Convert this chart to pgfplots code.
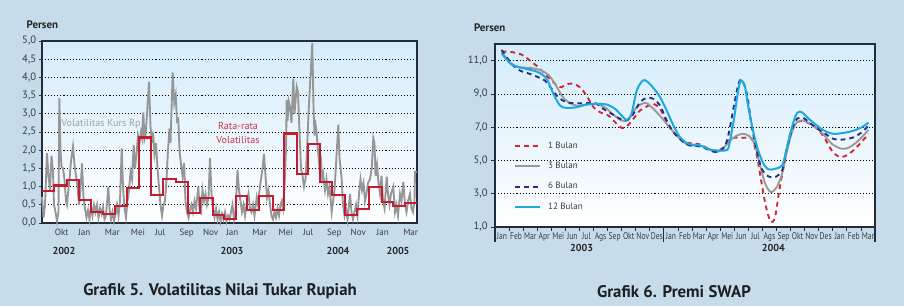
\documentclass[border=0pt]{standalone}
\usepackage{pgfplots}
\pgfplotsset{compat=1.18}
\usepackage{fontspec}
\setmainfont{PT Sans}
\newfontfamily\narrowfont[FakeStretch=0.78]{PT Sans}
\definecolor{bg}{RGB}{198,220,235}
\definecolor{plottop}{RGB}{212,236,250}
\definecolor{frame}{RGB}{35,45,58}
\definecolor{lbl}{RGB}{60,60,60}
\definecolor{volgray}{RGB}{150,150,150}
\definecolor{stepred}{RGB}{196,28,48}
\definecolor{txtred}{RGB}{200,50,75}
\definecolor{b1}{RGB}{214,36,46}
\definecolor{b3}{RGB}{153,153,153}
\definecolor{b6}{RGB}{40,44,130}
\definecolor{b12}{RGB}{28,168,224}
\newcommand\fTick{\fontsize{6.8}{7.5}\selectfont}
\newcommand\fTickR{\fontsize{7.3}{8}\selectfont}
\newcommand\fLeg{\fontsize{6.8}{7.5}\selectfont}
\newcommand\fY{\fontsize{8}{9}\selectfont}
\newcommand\fTxt{\fontsize{7.6}{10.5}\selectfont}
\newcommand\fBold{\bfseries\fontsize{7.6}{9}\selectfont}
\newcommand\fPers{\bfseries\fontsize{8.2}{9}\selectfont}
\newcommand\fTitle{\bfseries\fontsize{12.6}{14}\selectfont}
\begin{document}
\begin{tikzpicture}
\fill[bg] (0,0) rectangle (678pt,229.5pt);
% ---------------- Left chart ----------------
\begin{axis}[
  at={(31.5pt,62.25pt)}, anchor=south west,
  scale only axis, width=281.25pt, height=136.5pt,
  xmin=0, xmax=375, ymin=0, ymax=5,
  clip=false,
  axis background/.style={top color=plottop, bottom color=white},
  axis line style={draw=frame, line width=1pt},
  ytick={0,0.5,1,1.5,2,2.5,3,3.5,4,4.5,5},
  yticklabels={{0,0},{0,5},{1,0},{1,5},{2,0},{2,5},{3,0},{3,5},{4,0},{4,5},{5,0}},
  minor ytick={0,0.5,1,1.5,2,2.5,3,3.5,4,4.5,5},
  xtick={19.7,42.3,70.3,96,118.3,144.7,168.7,190.3,217.7,243.7,266.3,292.3,316.3,340.7,368.7},
  xticklabels={Okt,Jan,Mar,Mei,Jul,Sep,Nov,Jan,Mar,Mei,Jul,Sep,Nov,Jan,Mar},
  major tick length=0pt, minor tick length=2.4pt, tick align=outside,
  xtick pos=bottom, ytick pos=left,
  minor tick style={draw=lbl, line width=0.6pt},
  ymajorgrids,
  grid style={black, dash pattern=on 0.8pt off 1.5pt, line width=0.6pt},
  xticklabel style={font=\fTick, text=lbl, yshift=-1.2pt},
  yticklabel style={font=\fY, text=lbl, xshift=-0.8pt},
]
\addplot[volgray, line width=1.4pt] coordinates {
(0,0.72)(1.5,0.15)(3,0.5)(5,1.92)(6.5,1.3)(8,0.9)(9.5,1.85)(11,1.4)(12,0.5)(13.5,0.3)(15,0.05)(16.5,0.3)(17.3,3.43)(18.5,2.0)(19.5,1.55)(21,1.5)(22.5,1.2)(24,0.6)(25,0.5)(26,0.8)(27.5,1.2)(29,1.7)(31,2.1)(32.5,1.6)(34,1.3)(35.5,1.0)(37,0.5)(38.5,0.9)(40,1.64)(41.5,0.7)(43,0.4)(44.5,0.15)(46,0.35)(47.5,0.1)(49,0.45)(50.5,0.2)(52,0.5)(53.5,0.3)(55,0.5)(56.5,0.15)(58,0.4)(59.5,0.25)(61,0.45)(62.5,0.1)(64,0.2)(66.3,1.0)(67.5,0.4)(69,0.1)(70.5,0.3)(72,0.05)(73.5,0.25)(75,0.5)(76.5,0.2)(78,0.6)(79.7,2.05)(81,1.0)(82.5,0.4)(84,0.15)(85.5,0.6)(87,0.9)(88.5,1.4)(90,1.2)(91.7,2.14)(93,1.5)(94.5,1.9)(96,2.4)(97.5,2.2)(99,2.5)(100,2.35)(101.3,3.04)(102.5,2.3)(103.5,2.4)(105,3.0)(107,3.88)(108.5,2.65)(110,2.2)(111,2.5)(112.5,1.9)(114,2.2)(115.5,1.5)(117,1.0)(118.5,0.5)(120,0.2)(121.5,0.5)(123,0.6)(124.5,1.2)(126,2.0)(127.5,2.6)(128.5,2.2)(130.7,4.14)(132.3,3.3)(133.7,3.52)(135,2.8)(136.3,2.85)(137.5,2.0)(139,1.6)(140.5,1.3)(142,1.65)(143.5,0.6)(145,0.3)(146.5,0.15)(148,0.35)(149.5,0.5)(151,0.3)(152.5,0.6)(154,0.4)(156.3,1.0)(157.5,0.4)(159,0.3)(160.5,0.9)(162,0.6)(163.5,0.8)(165,0.5)(166.5,0.7)(168,1.78)(169.5,0.8)(171,0.4)(172.5,0.15)(174,0.4)(175.5,0.1)(177,0.3)(178.5,0.05)(180,0.25)(181.5,0.1)(183,0.3)(184.5,0.05)(186,0.2)(187.5,0.1)(189,0.3)(190.5,0.5)(192,0.1)(193.5,0.3)(195.5,1.46)(197,0.9)(198.5,0.6)(200,0.3)(201.5,0.5)(203,0.2)(205,0.6)(206.5,0.8)(208,0.4)(209.5,0.3)(211,0.5)(212.5,0.2)(214.7,0.7)(216,0.5)(217.5,0.9)(219,1.2)(220.5,1.5)(222,1.9)(223.5,1.3)(225,0.7)(226.5,0.9)(228,0.5)(229.5,0.2)(231,0.1)(232.5,0.3)(234,0.15)(235.5,0.4)(237,0.2)(238.5,0.5)(239.7,0.6)(241,0.4)(242.5,1.0)(244,2.0)(244.7,3.38)(245.5,2.8)(246.7,3.35)(248,3.2)(249.5,2.75)(251.3,3.96)(252.5,3.0)(254.7,3.74)(256,3.6)(257.5,2.5)(259,1.5)(260.5,1.3)(262,1.0)(263.5,1.2)(265,2.0)(266.5,3.0)(268,3.79)(270.3,4.94)(271.5,3.2)(272.5,2.4)(273,2.83)(274.5,2.5)(276,2.0)(277.5,1.5)(279,1.7)(280.5,1.1)(281.3,1.3)(283,0.9)(284.5,1.2)(286,0.8)(287.5,1.0)(289.7,0.3)(291,0.6)(292.5,0.9)(294,1.6)(296.3,2.7)(297.5,1.8)(299.7,1.2)(301,0.5)(302.5,0.2)(304,0.4)(305.5,0.1)(307,0.5)(308,0.8)(309.5,0.3)(311,0.1)(312.5,0.3)(314,0.5)(315.5,0.2)(317,0.8)(318.5,1.2)(320,0.9)(321.5,1.1)(323,0.6)(324.5,0.8)(326,1.1)(328,1.2)(329.7,1.5)(331.3,2.33)(332.5,2.2)(333.5,1.3)(335,1.6)(336.5,1.1)(338,0.8)(339.5,1.3)(341,0.6)(342.5,0.4)(344.7,1.27)(346,0.8)(347.5,0.5)(349,0.8)(351.3,1.0)(353,0.3)(354.5,0.5)(356,0.2)(358,0.8)(359.5,0.6)(361.3,1.13)(363,0.5)(364.5,0.3)(366,0.6)(368,0.8)(369.5,0.4)(371,0.3)(372.5,0.6)(373,1.4)(375,1.41)
};
\addplot[const plot, stepred, line width=1.6pt] coordinates {
(0,0.88)(12,1.03)(24.7,1.18)(37.3,0.63)(49,0.30)(61.3,0.25)(73,0.46)(85,0.96)(97,2.35)(109,0.76)(121.3,1.20)(133.7,1.12)(145.7,0.27)(157.7,0.68)(170.7,0.23)(182.3,0.12)(193.7,0.74)(205.3,0.36)(217,0.74)(230.7,0.35)(242.3,2.46)(254.7,1.35)(266.3,2.16)(278,1.13)(289.7,0.78)(303,0.22)(314.7,0.38)(327.3,0.98)(339.7,0.57)(351.3,0.47)(363,0.54)(375,0.54)
};
\node[font=\fTxt, text=volgray!90] at (axis cs:59,2.72) {Volatilitas Kurs Rp};
\node[font=\fTxt, text=txtred, align=center] at (axis cs:196,2.47) {Rata-rata\\Volatilitas};
\node[font=\fBold, text=black!85] at (axis cs:22,-0.77) {2002};
\node[font=\fBold, text=black!85] at (axis cs:190,-0.77) {2003};
\node[font=\fBold, text=black!85] at (axis cs:296,-0.77) {2004};
\node[font=\fBold, text=black!85] at (axis cs:356,-0.77) {2005};
\end{axis}
% ---------------- Right chart ----------------
\begin{axis}[
  at={(371.25pt,59.25pt)}, anchor=south west,
  scale only axis, width=285pt, height=137.25pt,
  xmin=0, xmax=27, ymin=1, ymax=12,
  clip=false,
  axis background/.style={top color=plottop, bottom color=white},
  axis line style={draw=frame, line width=1pt},
  ytick={1,3,5,7,9,11},
  yticklabels={{1,0},{3,0},{5,0},{7,0},{9,0},{11,0}},
  minor ytick={1,3,5,7,9,11},
  xtick={0.5,1.5,...,26.5},
  xticklabels={Jan,Feb,Mar,Apr,Mei,Jun,Jul,Ags,Sep,Okt,Nov,Des,Jan,Feb,Mar,Apr,Mei,Jun,Jul,Ags,Sep,Okt,Nov,Des,Jan,Feb,Mar},
  minor xtick={1,2,...,26},
  major tick length=0pt, minor tick length=3pt, tick align=outside,
  xtick pos=bottom, ytick pos=left,
  minor tick style={draw=frame, line width=0.6pt},
  ymajorgrids,
  grid style={black, dash pattern=on 0.8pt off 1.5pt, line width=0.6pt},
  xticklabel style={font=\narrowfont\fTickR, text=lbl, yshift=-0.5pt},
  yticklabel style={font=\fY, text=lbl, xshift=-2pt},
  legend cell align=left,
  legend image code/.code={\draw[#1] (0pt,0pt) -- (18.75pt,0pt);},
  legend style={at={(rel axis cs:0.04,0.49)}, anchor=north west, draw=none, fill=none,
    font=\fLeg, text=lbl, row sep=7pt, nodes={inner sep=1pt},
    /tikz/every odd column/.append style={column sep=4pt}},
]
\addplot[b1, line width=1.4pt, dash pattern=on 3.6pt off 3pt, smooth] coordinates {
(0.47,11.56)(1.3,11.5)(1.9,11.36)(2.49,11.0)(3.08,10.6)(3.67,10.1)(4.15,9.7)(4.62,9.4)(5.2,9.6)(5.57,9.6)(6.04,9.4)(6.5,8.9)(7.0,8.2)(7.46,7.9)(8.06,7.7)(8.53,7.3)(9.0,6.96)(9.36,7.04)(9.83,7.5)(10.3,8.0)(10.78,8.24)(11.26,8.4)(11.73,8.1)(12.2,7.3)(12.68,6.7)(13.4,6.1)(13.86,6.04)(14.57,5.96)(15.3,5.64)(15.76,5.54)(16.3,5.84)(16.6,6.2)(17.0,6.36)(17.66,6.36)(18.25,6.3)(18.6,5.3)(18.95,3.6)(19.26,2.2)(19.6,1.3)(19.9,1.6)(20.2,3.2)(20.55,4.8)(20.97,6.6)(21.45,7.3)(22.0,7.34)(22.75,7.0)(23.3,6.5)(23.93,5.6)(24.5,5.2)(25.1,5.36)(25.7,5.8)(26.3,6.36)(26.54,6.6)
};
\addlegendentry{1 Bulan}
\addplot[b3, line width=1.4pt, smooth] coordinates {
(0.47,11.5)(1.18,10.8)(1.78,10.6)(2.49,10.56)(3.2,10.44)(3.79,10.14)(4.27,9.6)(4.74,8.9)(5.2,8.5)(5.8,8.3)(6.5,8.36)(7.1,8.4)(7.8,8.2)(8.4,7.76)(9.0,7.4)(9.48,7.46)(10.07,8.2)(10.66,8.46)(11.0,8.3)(11.6,7.8)(12.2,7.2)(12.8,6.6)(13.4,6.1)(13.86,5.9)(14.57,5.9)(15.3,5.64)(15.76,5.5)(16.3,5.8)(16.7,6.2)(17.2,6.5)(17.66,6.6)(18.1,6.44)(18.48,5.9)(18.84,4.7)(19.2,3.6)(19.6,3.1)(20.02,3.4)(20.4,4.2)(20.7,5.4)(21.1,6.7)(21.45,7.3)(21.9,7.4)(22.6,7.1)(23.3,6.6)(23.93,6.0)(24.64,5.7)(25.2,5.8)(25.83,6.2)(26.54,6.84)
};
\addlegendentry{3 Bulan}
\addplot[b6, line width=1.4pt, dash pattern=on 3.6pt off 3pt, smooth] coordinates {
(0.47,11.64)(0.83,11.2)(1.3,10.7)(1.78,10.4)(2.49,10.2)(3.08,10.0)(3.55,9.8)(4.03,9.3)(4.5,8.8)(5.09,8.5)(5.8,8.44)(6.5,8.44)(7.1,8.46)(7.7,8.1)(8.3,7.8)(8.9,7.5)(9.36,7.4)(9.83,7.8)(10.3,8.5)(10.78,8.76)(11.26,8.7)(11.73,8.3)(12.2,7.4)(12.68,6.7)(13.4,6.1)(13.86,5.9)(14.57,5.84)(15.3,5.6)(15.76,5.5)(16.3,5.8)(16.6,6.6)(17.0,8.4)(17.3,9.6)(17.54,9.84)(17.9,9.0)(18.25,7.0)(18.6,5.6)(18.95,4.5)(19.43,4.04)(19.9,4.0)(20.4,4.4)(20.7,5.6)(21.1,6.84)(21.45,7.5)(21.9,7.56)(22.6,7.1)(23.3,6.7)(24.05,6.3)(24.76,6.26)(25.5,6.4)(26.07,6.7)(26.54,7.1)
};
\addlegendentry{6 Bulan}
\addplot[b12, line width=1.5pt, smooth] coordinates {
(0.47,11.44)(1.07,10.84)(1.54,10.64)(2.25,10.5)(3.08,10.3)(3.67,9.9)(4.15,9.0)(4.62,8.3)(5.09,8.16)(5.8,8.2)(6.5,8.36)(7.23,8.4)(7.94,8.36)(8.53,8.1)(9.0,7.7)(9.36,7.44)(9.7,7.8)(10.07,9.2)(10.5,9.8)(10.8,9.75)(11.26,9.35)(11.73,8.8)(12.2,8.0)(12.68,7.1)(13.15,6.4)(13.74,6.0)(14.57,5.9)(15.3,5.64)(15.76,5.6)(16.5,5.64)(16.7,6.2)(17.0,7.6)(17.2,8.8)(17.4,9.7)(17.54,9.8)(17.77,9.4)(18.0,8.2)(18.36,6.7)(18.7,5.6)(19.08,4.8)(19.43,4.46)(19.9,4.5)(20.4,4.7)(20.7,5.6)(21.1,7.0)(21.45,7.84)(21.8,7.9)(22.3,7.5)(22.87,7.1)(23.46,6.76)(24.05,6.6)(24.64,6.64)(25.36,6.76)(26.07,7.0)(26.54,7.28)
};
\addlegendentry{12 Bulan}
\draw[frame, line width=0.9pt] (axis cs:0,1) -- ++(0pt,-11pt);
\draw[frame, line width=0.9pt] (axis cs:12,1) -- ++(0pt,-11pt);
\draw[frame, line width=0.9pt] (axis cs:27,1) -- ++(0pt,-11pt);
\node[font=\fBold, text=black!85] at (axis cs:6.16,-0.28) {2003};
\node[font=\fBold, text=black!85] at (axis cs:19.78,-0.28) {2004};
\end{axis}
% ---------------- Texts outside ----------------
\node[anchor=west, font=\fPers, text=black!85] at (16.5pt,210.75pt) {Persen};
\node[anchor=west, font=\fPers, text=black!85] at (352pt,208.5pt) {Persen};
\node[font=\fTitle, text=black!88] at (165pt,10.8pt) {Grafik 5. Volatilitas Nilai Tukar Rupiah};
\node[font=\fTitle, text=black!88] at (505.5pt,10.8pt) {Grafik 6. Premi SWAP};
\pgfresetboundingbox
\useasboundingbox (0,0) rectangle (678pt,229.5pt);
\end{tikzpicture}
\end{document}
